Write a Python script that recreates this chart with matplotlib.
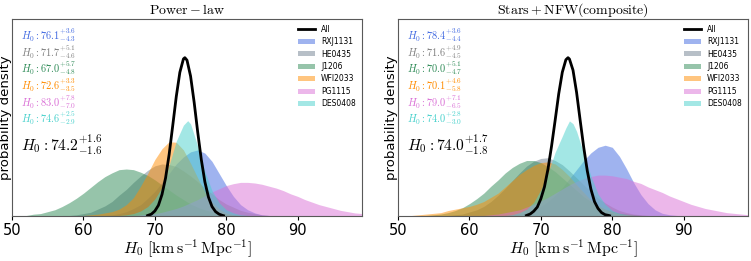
import numpy as np
import matplotlib
matplotlib.use("Agg")
import matplotlib.pyplot as plt
from matplotlib.patches import Patch
from matplotlib.lines import Line2D

plt.rcParams['mathtext.fontset'] = 'cm'
plt.rcParams['font.family'] = ['DejaVu Sans']

# lens names and colours
lenses = ['RXJ1131', 'HE0435', 'J1206', 'WFI2033', 'PG1115', 'DES0408']
fill_colors = ['royalblue', 'slategray', 'seagreen', 'darkorange', 'orchid', 'mediumturquoise']
text_colors = ['royalblue', 'gray', 'seagreen', 'darkorange', 'orchid', 'mediumturquoise']

# common H0 grid for the broad posteriors
h0 = [50, 51, 52, 53, 54, 55, 56, 57, 58, 59, 60, 61, 62, 63, 64, 65, 66, 67, 68, 69,
      70, 71, 72, 73, 74, 75, 76, 77, 78, 79, 80, 81, 82, 83, 84, 85, 86, 87, 88, 89,
      90, 91, 92, 93, 94, 95, 96, 97, 98, 99, 100]

# ---- power-law panel ----
pl_rxj1131 = [0, 0, 0, 0, 0, 0, 0, 0, 0, 0, 0, 0,
              0.001, 0.001, 0.002, 0.004, 0.007, 0.012, 0.018, 0.028, 0.039, 0.053, 0.067,
              0.082, 0.093, 0.101, 0.104, 0.099, 0.086, 0.067, 0.048, 0.031, 0.018, 0.010,
              0.005, 0.002, 0.001,
              0, 0, 0, 0, 0, 0, 0, 0, 0, 0, 0, 0, 0, 0]
pl_he0435 = [0, 0, 0, 0, 0, 0,
             0.000, 0.001, 0.001, 0.002, 0.004, 0.006, 0.011, 0.016, 0.023, 0.033, 0.042,
             0.053, 0.063, 0.072, 0.079, 0.082, 0.081, 0.078, 0.071, 0.063, 0.054, 0.044,
             0.035, 0.026, 0.019, 0.014, 0.009, 0.006, 0.004, 0.002, 0.001, 0.001,
             0, 0, 0, 0, 0, 0, 0, 0, 0, 0, 0, 0, 0]
pl_j1206 = [0.000, 0.001, 0.001, 0.003, 0.004, 0.007, 0.010, 0.015, 0.021, 0.028, 0.036,
            0.045, 0.054, 0.062, 0.068, 0.073, 0.074, 0.073, 0.069, 0.064, 0.057, 0.049,
            0.041, 0.033, 0.026, 0.019, 0.014, 0.010, 0.007, 0.005, 0.003, 0.002, 0.001,
            0.001,
            0, 0, 0, 0, 0, 0, 0, 0, 0, 0, 0, 0, 0, 0, 0, 0, 0]
pl_wfi2033 = [0, 0, 0, 0, 0, 0, 0, 0, 0, 0,
              0.001, 0.002, 0.003, 0.005, 0.007, 0.011, 0.018, 0.029, 0.047, 0.067, 0.089,
              0.106, 0.117, 0.116, 0.104, 0.083, 0.060, 0.038, 0.022, 0.011, 0.005, 0.002,
              0.001,
              0, 0, 0, 0, 0, 0, 0, 0, 0, 0, 0, 0, 0, 0, 0, 0, 0, 0]
pl_pg1115 = [0, 0, 0, 0, 0, 0, 0, 0, 0, 0, 0, 0, 0, 0, 0, 0,
             0.001, 0.001, 0.002, 0.003, 0.004, 0.006, 0.009, 0.012, 0.016, 0.021, 0.026,
             0.032, 0.038, 0.043, 0.048, 0.051, 0.053, 0.053, 0.052, 0.050, 0.047, 0.044,
             0.040, 0.035, 0.031, 0.026, 0.022, 0.018, 0.015, 0.012, 0.009, 0.007, 0.005,
             0.004, 0.003]
pl_des0408_x = [64, 65, 66, 67, 68, 69, 70, 71, 72, 73, 74, 74.6, 75, 76, 77, 78, 79, 80,
                81, 82, 83, 84]
pl_des0408 = [0.000, 0.001, 0.002, 0.004, 0.008, 0.015, 0.027, 0.045, 0.080, 0.118, 0.143,
              0.150, 0.145, 0.110, 0.070, 0.040, 0.021, 0.010, 0.005, 0.002, 0.001, 0.000]
pl_all_x = [68.8, 69, 69.5, 70, 70.5, 71, 71.5, 72, 72.5, 73, 73.5, 74, 74.2,
            74.5, 75, 75.5, 76, 76.5, 77, 77.5, 78, 78.5, 79, 79.5, 79.8]
pl_all = [0.000, 0.001, 0.003, 0.008, 0.017, 0.034, 0.060, 0.097,
          0.142, 0.188, 0.226, 0.247, 0.249, 0.245, 0.220, 0.179, 0.132, 0.089, 0.054,
          0.030, 0.015, 0.007, 0.003, 0.001, 0.000]
pl_median = [76.1, 71.7, 67.0, 72.6, 83.0, 74.6]
pl_up = [3.6, 5.1, 5.7, 3.3, 7.8, 2.5]
pl_lo = [4.3, 4.6, 4.8, 3.5, 7.0, 2.9]
pl_all_stat = (74.2, 1.6, 1.6)

# ---- stars + NFW (composite) panel ----
cp_rxj1131 = [0, 0, 0, 0, 0, 0, 0, 0, 0, 0, 0, 0, 0, 0,
              0.000, 0.001, 0.002, 0.003, 0.005, 0.009, 0.014, 0.021, 0.030, 0.041, 0.054,
              0.067, 0.080, 0.091, 0.099, 0.102, 0.099, 0.086, 0.068, 0.048, 0.031, 0.018,
              0.009, 0.004, 0.002, 0.001,
              0, 0, 0, 0, 0, 0, 0, 0, 0, 0, 0]
cp_he0435 = [0, 0, 0, 0, 0, 0,
             0.000, 0.001, 0.002, 0.003, 0.006, 0.009, 0.014, 0.021, 0.030, 0.040, 0.051,
             0.062, 0.072, 0.079, 0.083, 0.084, 0.080, 0.074, 0.065, 0.055, 0.045, 0.035,
             0.026, 0.019, 0.013, 0.008, 0.005, 0.003, 0.002, 0.001,
             0, 0, 0, 0, 0, 0, 0, 0, 0, 0, 0, 0, 0, 0, 0]
cp_j1206 = [0, 0, 0, 0,
            0.001, 0.002, 0.003, 0.005, 0.008, 0.012, 0.018, 0.025, 0.033, 0.043, 0.052,
            0.062, 0.070, 0.076, 0.080, 0.080, 0.077, 0.071, 0.064, 0.055, 0.046, 0.037,
            0.028, 0.021, 0.015, 0.010, 0.007, 0.004, 0.003, 0.002, 0.001,
            0, 0, 0, 0, 0, 0, 0, 0, 0, 0, 0, 0, 0, 0, 0, 0]
cp_wfi2033 = [0.000, 0.000, 0.001, 0.002, 0.003, 0.004, 0.005, 0.008, 0.010, 0.012, 0.014,
              0.017, 0.021, 0.027, 0.033, 0.042, 0.051, 0.060, 0.067, 0.073, 0.077, 0.078,
              0.075, 0.067, 0.057, 0.045, 0.034, 0.023, 0.015, 0.010, 0.006, 0.003, 0.002,
              0.001,
              0, 0, 0, 0, 0, 0, 0, 0, 0, 0, 0, 0, 0, 0, 0, 0, 0]
cp_pg1115 = [0, 0, 0, 0, 0, 0, 0, 0, 0, 0,
             0.001, 0.001, 0.001, 0.002, 0.003, 0.005, 0.007, 0.009, 0.013, 0.017, 0.022,
             0.027, 0.033, 0.039, 0.045, 0.050, 0.054, 0.057, 0.059, 0.059, 0.058, 0.056,
             0.054, 0.050, 0.047, 0.042, 0.038, 0.034, 0.029, 0.025, 0.021, 0.017, 0.014,
             0.011, 0.009, 0.007, 0.005, 0.004, 0.003, 0.002, 0.002]
cp_des0408_x = [65, 66, 67, 68, 69, 70, 71, 72, 73, 73.5, 74, 74.5, 75, 76, 77, 78, 79, 80,
                81, 82, 83, 84]
cp_des0408 = [0.001, 0.002, 0.005, 0.010, 0.020, 0.038, 0.062, 0.092, 0.115, 0.127, 0.137,
              0.133, 0.122, 0.090, 0.058, 0.032, 0.017, 0.008, 0.004, 0.002, 0.001, 0.000]
cp_all_x = [67.8, 68, 68.5, 69, 69.5, 70, 70.5, 71, 71.5, 72, 72.5, 73, 73.5, 73.8, 74,
            74.5, 75, 75.5, 76, 76.5, 77, 77.5, 78, 78.5, 79, 79.5, 79.8]
cp_all = [0.000, 0.001, 0.003, 0.007, 0.013, 0.025, 0.042, 0.068, 0.101, 0.138,
          0.176, 0.207, 0.225, 0.228, 0.226, 0.210, 0.178, 0.138, 0.099, 0.065, 0.039,
          0.021, 0.011, 0.005, 0.002, 0.001, 0.000]
cp_median = [78.4, 71.6, 70.0, 70.1, 79.0, 74.0]
cp_up = [3.6, 4.9, 5.1, 4.6, 7.1, 2.8]
cp_lo = [4.4, 4.5, 4.7, 5.8, 6.5, 3.0]
cp_all_stat = (74.0, 1.7, 1.8)


def draw_panel(ax, title, curves, des_x, des_y, all_x, all_y, med, up, lo, all_stat):
    for i, name in enumerate(lenses):
        if name == 'DES0408':
            ax.fill_between(des_x, 0, des_y, color=fill_colors[i], alpha=0.5, lw=0)
        else:
            ax.fill_between(h0, 0, curves[i], color=fill_colors[i], alpha=0.5, lw=0)
    ax.plot(all_x, all_y, color='black', lw=2, solid_capstyle='butt')

    ax.set_xlim(50, 99)
    ax.set_ylim(0, max(all_y) * 1.247)
    ax.set_xticks([50, 60, 70, 80, 90])
    ax.set_yticks([])
    ax.tick_params(axis='x', labelsize=10.5, length=3, pad=2)
    for sp in ax.spines.values():
        sp.set_color('0.35')
        sp.set_linewidth(0.8)
    ax.set_xlabel(r'$H_0\ [\mathrm{km\,s^{-1}\,Mpc^{-1}}]$', fontsize=11.5, labelpad=0)
    ax.set_ylabel('probability density', fontsize=9.5, labelpad=0)
    ax.set_title(title, fontsize=10, pad=3)

    y0 = 0.915
    for i in range(len(lenses)):
        ax.text(0.025, y0 - 0.084 * i,
                r'$H_0: %.1f^{+%.1f}_{-%.1f}$' % (med[i], up[i], lo[i]),
                color=text_colors[i], fontsize=7.5, transform=ax.transAxes,
                ha='left', va='center')
    ax.text(0.025, 0.36, r'$H_0: %.1f^{+%.1f}_{-%.1f}$' % all_stat,
            color='black', fontsize=11.2, transform=ax.transAxes, ha='left', va='center')

    handles = [Line2D([0], [0], color='black', lw=2)]
    handles += [Patch(color=c, alpha=0.5, lw=0) for c in fill_colors]
    ax.legend(handles, ['All'] + lenses, loc='upper right', fontsize=5.5, frameon=False,
              handlelength=2.2, handleheight=0.6, labelspacing=0.45, borderaxespad=0.4)


fig = plt.figure(figsize=(7.51, 2.61), dpi=100)
ax1 = fig.add_axes([0.016, 0.172, 0.466, 0.757])
ax2 = fig.add_axes([0.530, 0.172, 0.466, 0.757])

draw_panel(ax1, r'$\mathrm{Power-law}$',
           [pl_rxj1131, pl_he0435, pl_j1206, pl_wfi2033, pl_pg1115, None],
           pl_des0408_x, pl_des0408, pl_all_x, pl_all,
           pl_median, pl_up, pl_lo, pl_all_stat)
draw_panel(ax2, r'$\mathrm{Stars+NFW(composite)}$',
           [cp_rxj1131, cp_he0435, cp_j1206, cp_wfi2033, cp_pg1115, None],
           cp_des0408_x, cp_des0408, cp_all_x, cp_all,
           cp_median, cp_up, cp_lo, cp_all_stat)

fig.savefig('out.png', dpi=100)
